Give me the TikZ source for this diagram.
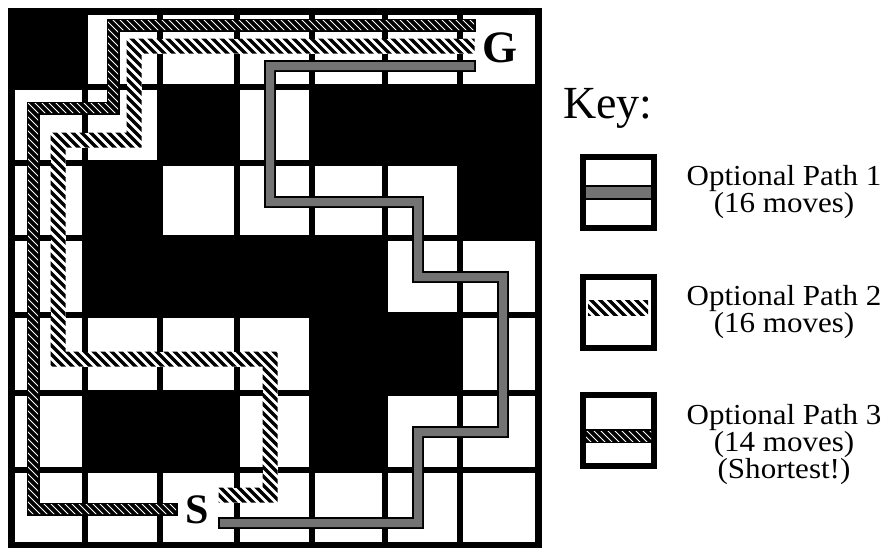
\documentclass[tikz,border=0pt]{standalone}
\usepackage{fontspec}
\setmainfont{Liberation Serif}
\newfontfamily\keyfont[FakeStretch=1.07]{Liberation Serif}
\tikzset{
  cell/.style={fill=white},
  ropeedge/.style={draw=black, line width=13pt, line cap=rect, line join=miter},
  ropestripe/.style={draw=white, line width=0.8pt},
  hatchbase/.style={draw=white, line width=15pt, line cap=rect, line join=miter},
  hatchstripe/.style={draw=black, line width=3.3pt},
  dotedge/.style={draw=black, line width=12pt, line cap=rect, line join=miter},
  dotfill/.style={fill=black!55},
  keybox/.style={draw=black, line width=6pt, minimum size=71pt, inner sep=0pt, fill=white},
  keytext/.style={font=\keyfont\fontsize{29}{27}\selectfont, anchor=base, inner sep=0pt},
  bigletter/.style={font=\bfseries\fontsize{45}{50}\selectfont, inner sep=0pt},
}
\newcommand\bandregion[3]{\path[#1] foreach \xa/\ya/\xb/\yb in {#3} {(\xa-#2,\ya-#2) rectangle (\xb+#2,\yb+#2)};}
\newcommand\stripeband[4]{% #1 half width, #2 segments, #3 stripe style, #4 spacing
  \begin{scope}
    \clip foreach \xa/\ya/\xb/\yb in {#2} {(\xa-#1,\ya-#1) rectangle (\xb+#1,\yb+#1)};
    \foreach \k in {0,...,250} {\draw[#3] (\k*#4-600,0) -- (\k*#4-40,560);}
  \end{scope}}
\begin{document}
\begin{tikzpicture}[x=1pt,y=-1pt]
\useasboundingbox (0,0) rectangle (882,549);
\fill[white] (0,0) rectangle (882,549);
% maze
\fill[black] (8,8) rectangle (542,548);
\foreach \cc/\rr in {1/0,2/0,3/0,4/0,5/0,6/0,
                     0/1,1/1,3/1,
                     0/2,2/2,3/2,4/2,5/2,
                     0/3,5/3,6/3,
                     0/4,1/4,2/4,3/4,6/4,
                     0/5,3/5,5/5,6/5,
                     0/6,1/6,2/6,3/6,4/6,5/6,6/6} {
  \pgfmathsetmacro\xa{{15,88,163,240,315,388,463}[\cc]}
  \pgfmathsetmacro\xb{{82,157,234,309,382,457,535}[\cc]}
  \pgfmathsetmacro\ya{{15,90,166,241,318,396,473}[\rr]}
  \pgfmathsetmacro\yb{{84,160,235,312,390,467,542}[\rr]}
  \fill[cell] (\xa,\ya) rectangle (\xb,\yb);
}
% Path 1 (stippled)
\draw[dotedge] (224,523) -- (418,523) -- (418,432) -- (503,432) -- (503,277) -- (418,277) -- (418,202) -- (270,202) -- (270,66) -- (470,66);
\bandregion{dotfill}{4}{224/523/418/523, 418/432/418/523, 418/432/503/432, 503/277/503/432, 418/277/503/277, 418/202/418/277, 270/202/418/202, 270/66/270/202, 270/66/470/66}
% Path 2 (hatched)
\draw[hatchbase] (226,495) -- (270,495) -- (270,359) -- (58,359) -- (58,140) -- (134,140) -- (134,46) -- (467,46);
\stripeband{7.5}{226/495/270/495, 270/359/270/495, 58/359/270/359, 58/140/58/359, 58/140/134/140, 134/46/134/140, 134/46/467/46}{hatchstripe}{9}
% Path 3 (rope)
\draw[ropeedge] (171,509) -- (33,509) -- (33,108) -- (113,108) -- (113,25) -- (469,25);
\stripeband{5}{33/509/171/509, 33/108/33/509, 33/108/113/108, 113/25/113/108, 113/25/469/25}{ropestripe}{7}
% labels
\node[bigletter] (G) at (500,48) {G};
\node[bigletter,font=\bfseries\fontsize{42}{46}\selectfont] (S) at (197,510) {S};
% key
\node[keytext,font=\fontsize{46}{50}\selectfont] (key) at (608,118) {Key:};
\node[keybox] (box1) at (618.5,192.5) {};
\draw[black, line width=15pt] (box1.west) -- (box1.east);
\draw[black!55, line width=11pt] ([xshift=6pt]box1.west) -- ([xshift=-6pt]box1.east);
\node[keybox] (box2) at (618.5,312.5) {};
\stripeband{7.5}{595.5/308/640.5/308}{hatchstripe}{9}
\node[keybox] (box3) at (618.5,430) {};
\draw[black, line width=14pt] ([yshift=-6pt]box3.west) -- ([yshift=-6pt]box3.east);
\stripeband{5}{591/436/646/436}{ropestripe}{7}
\node[keytext] (t1a) at (784,185.5) {Optional Path 1};
\node[keytext] (t1b) at (784,212.5) {(16 moves)};
\node[keytext] (t2a) at (784,305.5) {Optional Path 2};
\node[keytext] (t2b) at (784,332.5) {(16 moves)};
\node[keytext] (t3a) at (784,424) {Optional Path 3};
\node[keytext] (t3b) at (784,451) {(14 moves)};
\node[keytext] (t3c) at (784,478) {(Shortest!)};
\end{tikzpicture}
\end{document}
